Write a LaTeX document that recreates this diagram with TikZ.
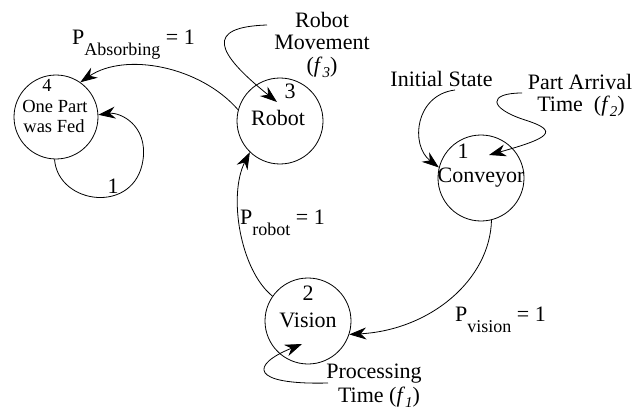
\documentclass[tikz,border=0pt]{standalone}
\usepackage{fontspec}
\setmainfont{Liberation Serif}
\usetikzlibrary{arrows.meta}
\newcommand\lowsub[1]{\raisebox{-11pt}{\fontsize{18}{20}\selectfont #1}}
\newcommand\fsub[1]{\textit{f}\raisebox{-5pt}{\fontsize{15}{17}\selectfont\textit{#1}}}
\begin{document}
\begin{tikzpicture}[x=1pt,y=-1pt,
  state/.style={circle,draw,line width=0.8pt,minimum size=86pt,inner sep=0pt},
  lbl/.style={inner sep=0pt,anchor=base,font=\fontsize{22}{26}\selectfont},
  small/.style={lbl,font=\fontsize{18.5}{22}\selectfont},
  conn/.style={line width=0.8pt,-{Stealth[length=17pt,width=12pt,inset=5.5pt]}},
]
\useasboundingbox (0,0) rectangle (632,412);

% states
\node[state,minimum size=84pt] (s4) at (56,117) {};
\node[state] (s3) at (280,121) {};
\node[state] (s1) at (481,178) {};
\node[state] (s2) at (308,321) {};

% state texts
\node[small] (t4a) at (47,92) {4};
\node[small] (t4b) at (55,112) {One Part};
\node[small] (t4c) at (54,132) {was Fed};
\node[lbl] (t3a) at (290,99) {3};
\node[lbl] (t3b) at (278,125) {Robot};
\node[lbl] (t1a) at (463,158) {1};
\node[lbl] (t1b) at (481,182) {Conveyor};
\node[lbl] (t2a) at (308,300) {2};
\node[lbl] (t2b) at (308,327) {Vision};

% edge labels
\node[lbl,anchor=base west] (pa) at (72,45) {P\lowsub{Absorbing} = 1};
\node[lbl,anchor=base west] (pr) at (240,224) {P\lowsub{robot} = 1};
\node[lbl,anchor=base west] (pv) at (455,321) {P\lowsub{vision} = 1};
\node[lbl] (one) at (113,193) {1};

% annotations
\node[lbl] (rm1) at (322,28) {Robot};
\node[lbl] (rm2) at (322,50) {Movement};
\node[lbl] (rm3) at (322,73) {(\fsub{3})};
\node[lbl] (is) at (441.5,87) {Initial State};
\node[lbl] (pa1) at (580,89) {Part Arrival};
\node[lbl] (pa2) at (581,111.5) {Time\ \ (\fsub{2})};
\node[lbl] (pt1) at (374,378) {Processing};
\node[lbl] (pt2) at (379,402) {Time (\fsub{1})};

% free ends
\coordinate (m0) at (267,25);
\coordinate (m1) at (277,102);
\coordinate (i0) at (455,90);
\coordinate (p0) at (522,93);
\coordinate (p1) at (489,155);
\coordinate (q0) at (328,383);
\coordinate (q1) at (302,344);

% transitions
\draw[conn] (s3.165) .. controls (200,66) and (125,52) .. (s4.55);
\draw[conn] (s2.145) .. controls (240,270) and (228,195) .. (s3.226);
\draw[conn] (s1.284) .. controls (490,280) and (430,330) .. (s2.342);
\draw[conn] (s4.268) .. controls (58,205) and (135,215) .. (143,160)
  .. controls (148,125) and (120,112) .. (s4.3);

% annotation arrows
\draw[conn] (m0) .. controls (205,27) and (215,52) .. (m1);
\draw[conn] (i0) .. controls (415,95) and (410,145) .. (s1.166);
\draw[conn] (p0) .. controls (488,93) and (488,108) .. (525,120)
  .. controls (560,131) and (550,138) .. (p1);
\draw[conn] (q0) .. controls (250,385) and (250,365) .. (q1);
\end{tikzpicture}
\end{document}
